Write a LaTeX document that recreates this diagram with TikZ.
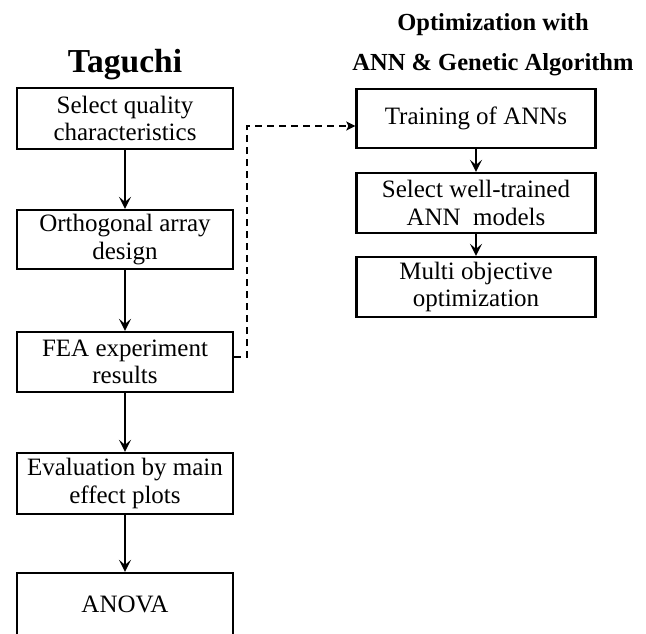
\documentclass[tikz,border=0pt]{standalone}
\usepackage{fontspec}
\setmainfont{Liberation Serif}
\usetikzlibrary{arrows.meta}
\begin{document}
\begin{tikzpicture}[x=1pt,y=-1pt,
  box/.style={draw,line width=2.3pt,inner sep=0pt,align=center,font=\fontsize{25}{27.5}\selectfont},
  lbox/.style={box,minimum width=216pt},
  rbox/.style={box,minimum width=239pt},
  flow/.style={line width=2pt,-{Stealth[length=12pt,width=12pt,inset=5pt]}},
  link/.style={line width=2pt,dash pattern=on 7pt off 5pt,-{Stealth[length=9pt,width=9pt,inset=2pt]}},
  title/.style={font=\bfseries\fontsize{24.5}{28}\selectfont,anchor=base,inner sep=0pt}]
\useasboundingbox (0,0) rectangle (646,633);
\clip (0,0) rectangle (646,633);
% titles
\node[title,font=\bfseries\fontsize{33.5}{36}\selectfont] (t1) at (125,72) {Taguchi};
\node[title] (t2) at (493,30) {Optimization with};
\node[title] (t3) at (493,70) {ANN \& Genetic Algorithm};
% left column
\node[lbox,minimum height=61pt] (n1) at (125,118.5) {Select quality\\characteristics};
\node[lbox,minimum height=59pt] (n2) at (125,239.5) {Orthogonal array\\design};
\node[lbox,minimum height=60pt] (n3) at (125,362) {FEA experiment\\results};
\node[lbox,minimum height=61pt] (n4) at (125,483.5) {Evaluation by main\\effect plots};
\node[lbox,minimum height=62pt] (n5) at (125,604) {ANOVA};
% right column
\node[rbox,minimum height=59pt] (r1) at (476,118.5) {Training of ANNs};
\node[rbox,minimum height=60pt] (r2) at (476,203) {Select well-trained\\ANN\ \ models};
\node[rbox,minimum height=60pt] (r3) at (476,287) {Multi objective\\optimization};
% connectors
\draw[flow] (n1) -- (n2);
\draw[flow] (n2) -- (n3);
\draw[flow] (n3) -- (n4);
\draw[flow] (n4) -- (n5);
\draw[flow] (r1) -- (r2);
\draw[flow] (r2) -- (r3);
\draw[link] ([yshift=5pt]n3.east) -- ++(13,0) |- ([yshift=-7.5pt]r1.west);
\end{tikzpicture}
\end{document}
